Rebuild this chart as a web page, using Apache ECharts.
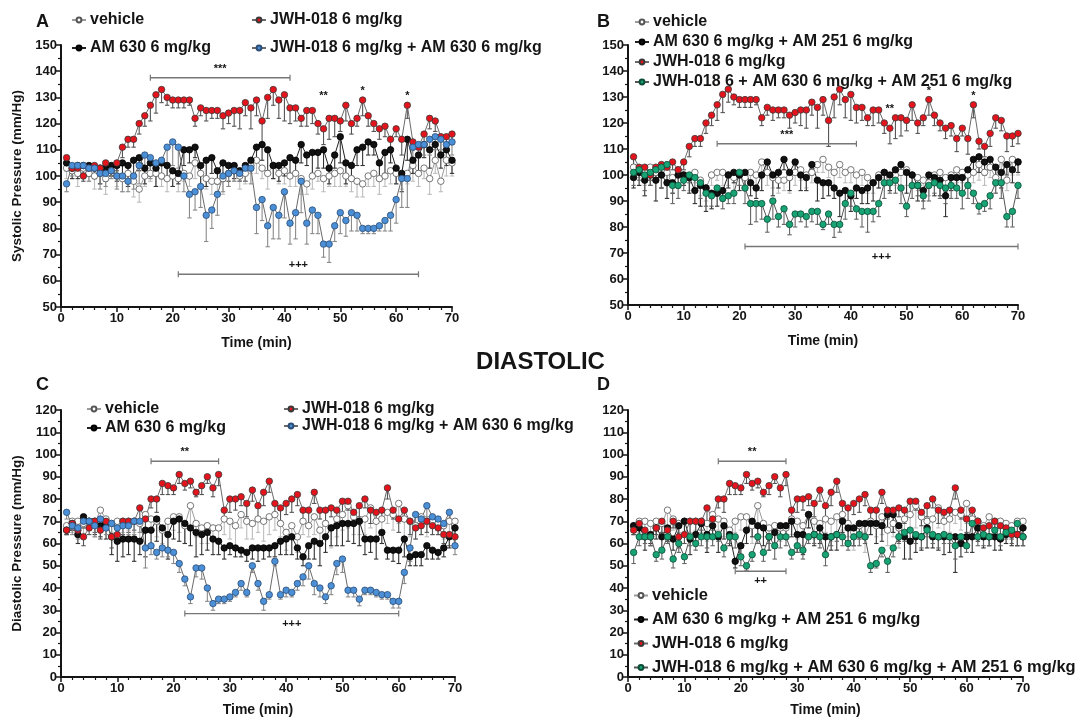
<!DOCTYPE html>
<html><head><meta charset="utf-8">
<script src="https://cdn.jsdelivr.net/npm/echarts@6/dist/echarts.min.js"></script>
<style>html,body{margin:0;padding:0;background:#fff}#c{width:1081px;height:718px}</style>
</head><body><div id="c"></div>
<script>
const minutes = [1,2,3,4,5,6,7,8,9,10,11,12,13,14,15,16,17,18,19,20,21,22,23,24,25,26,27,28,29,30,31,32,33,34,35,36,37,38,39,40,41,42,43,44,45,46,47,48,49,50,51,52,53,54,55,56,57,58,59,60,61,62,63,64,65,66,67,68,69,70];

// Systolic (panels A, B)
const sysVehicle = [103,102,101,103,101,100,101,99,102,100, 99,101,98,95,100,101,101,100,99,100, 99,101,100,105,101,99,98,98,99,101, 102,100,101,104,106,103,101,104,101,102, 100,101,99,97,100,101,99,100,101,102, 100,99,98,97,100,101,99,100,102,101, 100,101,104,101,103,99,106,98,106,105];
const sysVehicleErr = [4,3,5,4,3,5,4,6,3,4, 5,4,6,5,4,3,5,4,5,4, 5,3,4,6,5,4,5,4,6,5, 4,5,4,3,5,4,6,5,4,5, 4,5,6,4,5,3,5,4,5,6, 4,5,6,5,4,5,6,4,5,4, 5,4,6,5,4,6,5,4,6,5];
const sysJWH = [107,103,103,100,103,104,103,105,102,105, 111,114,114,120,123,127,131,133,130,129, 129,129,129,122,126,125,125,125,123,124, 125,125,128,126,129,121,130,133,129,131, 126,126,122,125,125,120,118,122,122,121, 127,120,122,129,123,120,118,119,114,118, 114,127,113,111,116,122,121,115,115,116];
const sysJWHErr = [3,2,3,2,3,3,2,3,2,3, 4,3,3,4,4,6,7,5,3,3, 3,3,2,3,3,4,3,3,5,4, 6,7,5,8,6,10,8,6,7,10, 6,5,3,6,5,4,6,8,7,4, 6,4,3,6,4,3,4,4,5,3, 6,5,3,4,5,4,4,6,4,4];
const sysAM630 = [105,103,104,104,104,103,103,103,104,104, 105,104,106,107,103,105,103,105,104,102, 101,110,110,111,104,106,107,102,105,104, 104,102,104,106,111,112,110,104,104,105, 107,106,112,108,109,109,110,103,108,115, 105,104,110,111,113,112,105,109,110,103, 101,114,106,108,112,110,112,108,110,106];
const sysAM630Err = [3,4,5,3,4,4,6,5,4,6, 5,8,7,5,6,5,7,6,5,6, 4,6,5,4,8,10,6,5,7,6, 5,4,6,4,5,6,8,5,6,5, 6,5,7,4,8,6,7,6,5,10, 8,5,6,7,5,4,6,8,5,6, 7,8,5,6,5,7,6,5,6,5];
const sysJWHAM630 = [97,104,104,104,103,103,101,101,102,100, 100,98,100,104,108,107,105,106,111,113, 111,100,93,94,96,85,87,93,100,101, 102,101,103,103,88,91,81,88,85,94, 82,86,98,82,87,85,74,74,81,86, 83,86,85,80,80,80,81,83,85,91, 99,99,111,112,112,114,115,114,112,113];
const sysJWHAM630Err = [3,4,3,4,5,4,6,5,3,5, 6,4,5,7,6,8,5,7,6,9, 8,6,9,7,8,10,7,8,6,5, 4,3,5,6,10,8,8,12,9,10, 8,10,12,8,9,7,5,7,6,8, 6,7,6,2,2,2,2,4,6,9, 11,11,6,5,4,6,5,4,6,5];
const sysAM630AM251 = [99,101,98,100,98,100,97,97,100,100, 99,94,96,95,93,93,94,100,101,100, 101,97,95,100,105,100,101,106,101,105, 100,99,104,98,97,97,95,93,94,92, 95,94,95,97,99,101,100,102,104,101, 100,96,94,100,99,98,92,99,99,99, 102,106,107,105,106,103,101,104,102,105];
const sysAM630AM251Err = [4,5,6,4,8,5,6,4,5,4, 6,5,8,9,6,5,4,5,4,6, 7,5,4,6,5,8,6,4,7,5, 6,5,4,8,6,5,4,9,5,6, 4,5,6,7,4,5,6,5,4,8, 5,6,4,5,7,6,8,5,4,6, 5,4,6,5,4,5,6,4,5,4];
const sysTriple = [101,102,100,101,102,103,104,96,96,98, 100,99,97,93,92,95,91,92,93,101, 95,89,89,89,83,90,84,87,81,85, 85,84,86,86,81,85,81,81,89,93, 87,86,86,86,89,97,97,98,95,88, 96,96,92,96,97,96,95,96,95,93, 96,93,88,89,92,97,97,84,86,96];
const sysTripleErr = [5,4,6,5,4,8,6,7,5,4, 3,5,6,5,4,3,4,3,4,5, 6,8,7,6,5,7,4,6,4,5, 3,4,4,5,2,4,5,3,6,5, 4,6,8,4,5,6,4,5,6,4, 5,4,5,6,4,5,6,5,4,6, 5,4,3,3,5,4,6,4,6,5];

// Diastolic (panels C, D)
const diaVehicle = [68,70,70,69,70,69,75,71,69,70, 70,70,70,69,73,71,70,66,70,72, 72,68,77,69,67,68,67,67,71,70, 68,73,70,69,71,70,72,73,69,65, 68,63,70,68,72,66,69,67,71,73, 77,72,70,71,76,70,71,74,73,78, 71,70,68,72,70,70,69,68,70,70];
const diaVehicleErr = [4,5,6,5,4,6,7,5,4,6, 5,4,5,8,6,5,7,6,5,6, 7,8,9,6,7,8,6,5,7,8, 9,6,8,7,6,9,8,7,6,8, 5,7,6,5,8,7,6,9,8,7, 10,8,6,7,9,8,6,5,7,9, 8,7,6,8,7,6,5,6,7,6];
const diaJWH = [66,69,66,63,67,70,66,70,63,64, 70,70,70,76,71,80,80,87,86,85, 91,87,88,83,86,90,85,91,75,80, 80,81,78,84,77,83,88,78,76,78, 80,82,75,75,83,75,75,76,75,79, 79,74,77,80,75,74,75,85,75,71, 75,70,67,68,70,68,67,64,64,63];
const diaJWHErr = [2,3,3,4,3,5,4,3,5,4, 6,5,4,6,5,4,6,5,4,3, 4,3,3,2,4,3,4,5,3,6, 5,4,6,5,7,6,5,4,6,5, 6,5,4,6,5,4,5,4,6,5, 4,6,5,4,6,5,4,5,4,6, 5,6,5,4,5,4,3,4,5,4];
const diaAM630 = [66,69,64,72,70,70,68,69,63,61, 62,62,62,61,66,66,71,67,64,70, 71,69,67,65,64,65,62,61,58,59, 58,57,56,58,58,58,58,59,61,62, 63,58,54,59,61,60,63,67,68,69, 69,69,70,62,62,62,65,57,57,57, 62,54,55,55,59,57,56,58,63,67];
const diaAM630Err = [2,3,4,5,4,6,5,7,8,9, 8,7,10,6,12,8,10,9,11,8, 10,9,8,11,9,8,7,6,5,4, 4,3,4,5,6,5,4,5,6,7, 8,5,4,6,8,10,7,8,9,10, 8,9,11,7,6,9,5,4,5,6, 8,4,5,5,6,4,3,4,5,4];
const diaJWHAM630 = [74,68,67,70,70,68,71,67,69,67, 68,68,70,70,58,59,56,58,57,56, 51,44,36,49,49,40,33,35,35,36, 38,42,38,50,42,34,37,52,37,39, 38,42,45,50,42,40,36,41,51,53, 39,39,35,39,39,38,37,37,34,34, 47,58,73,71,77,72,71,69,74,59];
const diaJWHAM630Err = [3,4,5,3,4,5,4,3,5,4, 5,4,6,5,9,4,3,4,3,5, 4,3,3,4,5,6,3,2,2,2, 2,3,2,3,3,4,2,2,2,3, 2,3,4,6,5,4,3,4,5,6, 3,3,3,2,2,2,2,2,3,3, 5,6,5,4,5,4,5,4,5,4];
const diaAM630AM251 = [68,67,63,64,67,63,67,62,68,70, 62,64,69,64,68,63,68,64,52,59, 66,70,68,67,63,65,68,68,70,64, 64,73,64,67,63,63,64,70,67,67, 69,69,69,69,68,73,73,68,63,61, 63,63,67,63,63,63,63,63,60,63, 63,67,63,63,63,62,64,65,64,67];
const diaAM630AM251Err = [4,5,6,4,5,7,6,5,4,6, 7,5,6,8,5,7,6,5,3,5, 6,7,5,8,6,7,5,6,7,8, 9,6,5,7,8,6,7,5,6,8, 7,6,5,9,7,6,8,7,10,8, 7,6,9,5,6,8,7,16,6,5, 7,6,5,4,6,5,4,6,5,4];
const diaTriple = [56,63,63,63,55,57,63,53,60,54, 63,60,63,63,63,64,58,63,63,54, 50,55,63,56,63,59,63,63,56,59, 57,63,64,63,55,63,64,63,60,63, 64,63,50,51,57,52,58,63,65,66, 64,63,66,64,63,64,63,59,63,59, 69,63,64,63,66,63,65,66,69,63];
const diaTripleErr = [5,4,3,4,3,4,3,4,4,3, 4,3,4,5,4,3,4,3,5,4, 2,3,3,4,3,6,5,4,3,3, 4,3,4,5,5,4,3,4,3,4, 5,3,3,2,3,5,4,3,4,5, 4,5,3,4,5,4,3,6,4,3, 5,4,5,4,3,4,3,4,5,4];

// Significance annotations: [from, to, level, label, side]
const bracketsA = [[16,41,137.5,'***','above'],[21,64,62.5,'+++','above']];
const bracketsB = [[16,41,112,'***','above'],[21,70,72.5,'+++','below']];
const bracketsC = [[16,28,97,'**','above'],[22,60,28.5,'+++','below']];
const bracketsD = [[16,28,97,'**','above'],[19,28,47.5,'++','below']];
// point marks: [minute, level, label]
const starsA = [[47,130.5,'**'],[54,132.5,'*'],[62,130.5,'*']];
const starsB = [[47,125.5,'**'],[54,132.5,'*'],[62,130.5,'*']];

// Axis ranges
const sysRange = [50,150], diaRange = [0,120], timeRange = [0,70];

const NAME_VEH = 'vehicle', NAME_AM = 'AM 630 6 mg/kg', NAME_JWH = 'JWH-018 6 mg/kg',
      NAME_JA = 'JWH-018 6 mg/kg + AM 630 6 mg/kg', NAME_AA = 'AM 630 6 mg/kg + AM 251 6 mg/kg',
      NAME_TB = 'JWH-018 6 + AM 630 6 mg/kg + AM 251 6 mg/kg',
      NAME_TD = 'JWH-018 6 mg/kg + AM 630 6 mg/kg + AM 251 6 mg/kg';

const FONT = '"Liberation Sans", Arial, Helvetica, sans-serif';
const INK = '#151515';

const styles = {
  veh:   {fill:'#ffffff', border:'#555555', line:'#9a9a9a', err:'#bdbdbd'},
  black: {fill:'#111111', border:'#000000', line:'#222222', err:'#333333'},
  red:   {fill:'#e5141c', border:'#3a3a3a', line:'#6a6a6a', err:'#555555'},
  blue:  {fill:'#4b8fd6', border:'#2b4d75', line:'#6a6a6a', err:'#8a8a8a'},
  green: {fill:'#18a374', border:'#0d4d38', line:'#555555', err:'#666666'}
};

function lineS(name, vals, st, g){
  return {type:'line', name:name, xAxisIndex:g, yAxisIndex:g,
    data: minutes.map((t,i)=>[t, vals[i]]),
    symbol:'circle', symbolSize:6.5, showSymbol:true, z:3,
    itemStyle:{color:st.fill, borderColor:st.border, borderWidth:0.8},
    lineStyle:{color:st.line, width:1}, emphasis:{disabled:true}, animation:false};
}
function errS(vals, errs, st, g){
  return {type:'custom', name:'err', xAxisIndex:g, yAxisIndex:g, z:2, animation:false, silent:true,
    data: minutes.map((t,i)=>[t, vals[i], errs[i]]),
    renderItem:function(p, api){
      const x=api.value(0), y=api.value(1), e=api.value(2);
      const a=api.coord([x,y]), b=api.coord([x,y-e]);
      return {type:'group', children:[
        {type:'line', shape:{x1:a[0],y1:a[1],x2:b[0],y2:b[1]}, style:{stroke:st.err, lineWidth:1.1}},
        {type:'line', shape:{x1:b[0]-2.2,y1:b[1],x2:b[0]+2.2,y2:b[1]}, style:{stroke:st.err, lineWidth:1.1}}
      ]};
    }};
}
function bracketS(list, g){
  return {type:'custom', name:'br', xAxisIndex:g, yAxisIndex:g, z:4, animation:false, silent:true,
    data: list.map(b=>[b[0], b[1], b[2]]),
    renderItem:function(p, api){
      const b=list[p.dataIndex];
      const a=api.coord([b[0], b[2]]), c=api.coord([b[1], b[2]]);
      const mx=(a[0]+c[0])/2;
      const ty = b[4]==='above' ? a[1]-9 : a[1]+10;
      return {type:'group', children:[
        {type:'line', shape:{x1:a[0],y1:a[1],x2:c[0],y2:c[1]}, style:{stroke:'#777', lineWidth:1.4}},
        {type:'line', shape:{x1:a[0],y1:a[1]-3,x2:a[0],y2:a[1]+3}, style:{stroke:'#777', lineWidth:1.2}},
        {type:'line', shape:{x1:c[0],y1:c[1]-3,x2:c[0],y2:c[1]+3}, style:{stroke:'#777', lineWidth:1.2}},
        {type:'text', x:mx, y:ty, style:{text:b[3], fill:INK, font:'bold 11px '+FONT, align:'center', verticalAlign:'middle'}}
      ]};
    }};
}
function starS(list, g){
  return {type:'custom', name:'st', xAxisIndex:g, yAxisIndex:g, z:4, animation:false, silent:true,
    data: list.map(s=>[s[0], s[1]]),
    renderItem:function(p, api){
      const s=list[p.dataIndex];
      const a=api.coord([s[0], s[1]]);
      return {type:'text', x:a[0], y:a[1], style:{text:s[2], fill:INK, font:'bold 11px '+FONT, align:'center', verticalAlign:'middle'}};
    }};
}

const grids = [
  {left:61, top:45, width:391, height:262},
  {left:628, top:45, width:390, height:260},
  {left:61, top:410, width:394, height:268},
  {left:628, top:410, width:395, height:268}
];
function xAx(g, gap){
  return {type:'value', gridIndex:g, min:timeRange[0], max:timeRange[1], interval:10,
    name:'Time (min)', nameLocation:'middle', nameGap:gap,
    nameTextStyle:{color:INK, fontWeight:'bold', fontSize:14, fontFamily:FONT},
    axisLine:{show:true, onZero:false, lineStyle:{color:INK, width:2}},
    axisTick:{show:true, length:5, lineStyle:{color:INK, width:1.5}},
    minorTick:{show:true, splitNumber:5, length:3, lineStyle:{color:INK, width:1.2}},
    splitLine:{show:false}, minorSplitLine:{show:false},
    axisLabel:{color:INK, fontWeight:'bold', fontSize:13, fontFamily:FONT, margin:5}};
}
function yAx(g, range, name){
  return {type:'value', gridIndex:g, min:range[0], max:range[1], interval:10,
    name:name||'', nameLocation:'middle', nameGap:37,
    nameTextStyle:{color:INK, fontWeight:'bold', fontSize:13.5, fontFamily:FONT},
    axisLine:{show:true, onZero:false, lineStyle:{color:INK, width:2}},
    axisTick:{show:true, length:5, lineStyle:{color:INK, width:1.5}},
    minorTick:{show:true, splitNumber:2, length:3, lineStyle:{color:INK, width:1.2}},
    splitLine:{show:false}, minorSplitLine:{show:false},
    axisLabel:{color:INK, fontWeight:'bold', fontSize:13, fontFamily:FONT, margin:4}};
}
function leg(left, top, gap, names, size){
  return {show:true, orient:'vertical', left:left, top:top, itemGap:gap, itemWidth:14, itemHeight:6,
    padding:0, selectedMode:false, data:names,
    textStyle:{color:INK, fontWeight:'bold', fontSize:size||16, fontFamily:FONT, padding:[0,0,0,-1]}};
}

const series = [
  // A
  errS(sysVehicle, sysVehicleErr, styles.veh, 0), errS(sysAM630, sysAM630Err, styles.black, 0),
  errS(sysJWH, sysJWHErr, styles.red, 0), errS(sysJWHAM630, sysJWHAM630Err, styles.blue, 0),
  lineS(NAME_VEH, sysVehicle, styles.veh, 0), lineS(NAME_AM, sysAM630, styles.black, 0),
  lineS(NAME_JWH, sysJWH, styles.red, 0), lineS(NAME_JA, sysJWHAM630, styles.blue, 0),
  bracketS(bracketsA, 0), starS(starsA, 0),
  // B
  errS(sysVehicle, sysVehicleErr, styles.veh, 1), errS(sysAM630AM251, sysAM630AM251Err, styles.black, 1),
  errS(sysJWH, sysJWHErr, styles.red, 1), errS(sysTriple, sysTripleErr, styles.green, 1),
  lineS(NAME_VEH, sysVehicle, styles.veh, 1), lineS(NAME_AA, sysAM630AM251, styles.black, 1),
  lineS(NAME_JWH, sysJWH, styles.red, 1), lineS(NAME_TB, sysTriple, styles.green, 1),
  bracketS(bracketsB, 1), starS(starsB, 1),
  // C
  errS(diaVehicle, diaVehicleErr, styles.veh, 2), errS(diaAM630, diaAM630Err, styles.black, 2),
  errS(diaJWH, diaJWHErr, styles.red, 2), errS(diaJWHAM630, diaJWHAM630Err, styles.blue, 2),
  lineS(NAME_VEH, diaVehicle, styles.veh, 2), lineS(NAME_AM, diaAM630, styles.black, 2),
  lineS(NAME_JWH, diaJWH, styles.red, 2), lineS(NAME_JA, diaJWHAM630, styles.blue, 2),
  bracketS(bracketsC, 2),
  // D
  errS(diaVehicle, diaVehicleErr, styles.veh, 3), errS(diaAM630AM251, diaAM630AM251Err, styles.black, 3),
  errS(diaJWH, diaJWHErr, styles.red, 3), errS(diaTriple, diaTripleErr, styles.green, 3),
  lineS(NAME_VEH, diaVehicle, styles.veh, 3), lineS(NAME_AA, diaAM630AM251, styles.black, 3),
  lineS(NAME_JWH, diaJWH, styles.red, 3), lineS(NAME_TD, diaTriple, styles.green, 3),
  bracketS(bracketsD, 3)
];

const option = {
  backgroundColor:'#ffffff',
  animation:false,
  textStyle:{fontFamily:FONT},
  grid: grids,
  xAxis: [xAx(0,29), xAx(1,29), xAx(2,26), xAx(3,26)],
  yAxis: [yAx(0, sysRange, 'Systolic Pressure (mm/Hg)'), yAx(1, sysRange), yAx(2, diaRange, 'Diastolic Pressure (mm/Hg)'), yAx(3, diaRange)],
  legend: [
    leg(71, 12, 12, [NAME_VEH, NAME_AM]),
    leg(251, 12, 12, [NAME_JWH, NAME_JA]),
    leg(634, 14, 4, [NAME_VEH, NAME_AA, NAME_JWH, NAME_TB]),
    leg(86, 401, 3, [NAME_VEH, NAME_AM]),
    leg(283, 401, 1, [NAME_JWH, NAME_JA]),
    leg(633, 587, 7, [NAME_VEH, NAME_AA, NAME_JWH, NAME_TD], 16.5)
  ],
  graphic: [
    {type:'text', left:36, top:13, style:{text:'A', fill:INK, font:'bold 18px '+FONT}},
    {type:'text', left:597, top:13, style:{text:'B', fill:INK, font:'bold 18px '+FONT}},
    {type:'text', left:36, top:376, style:{text:'C', fill:INK, font:'bold 18px '+FONT}},
    {type:'text', left:597, top:376, style:{text:'D', fill:INK, font:'bold 18px '+FONT}},
    {type:'text', left:'center', top:350, style:{text:'DIASTOLIC', fill:INK, font:'bold 24px '+FONT}}
  ],
  series: series
};
const chart = echarts.init(document.getElementById('c'), null, {renderer:'canvas'});
chart.setOption(option);
</script>
</body></html>
